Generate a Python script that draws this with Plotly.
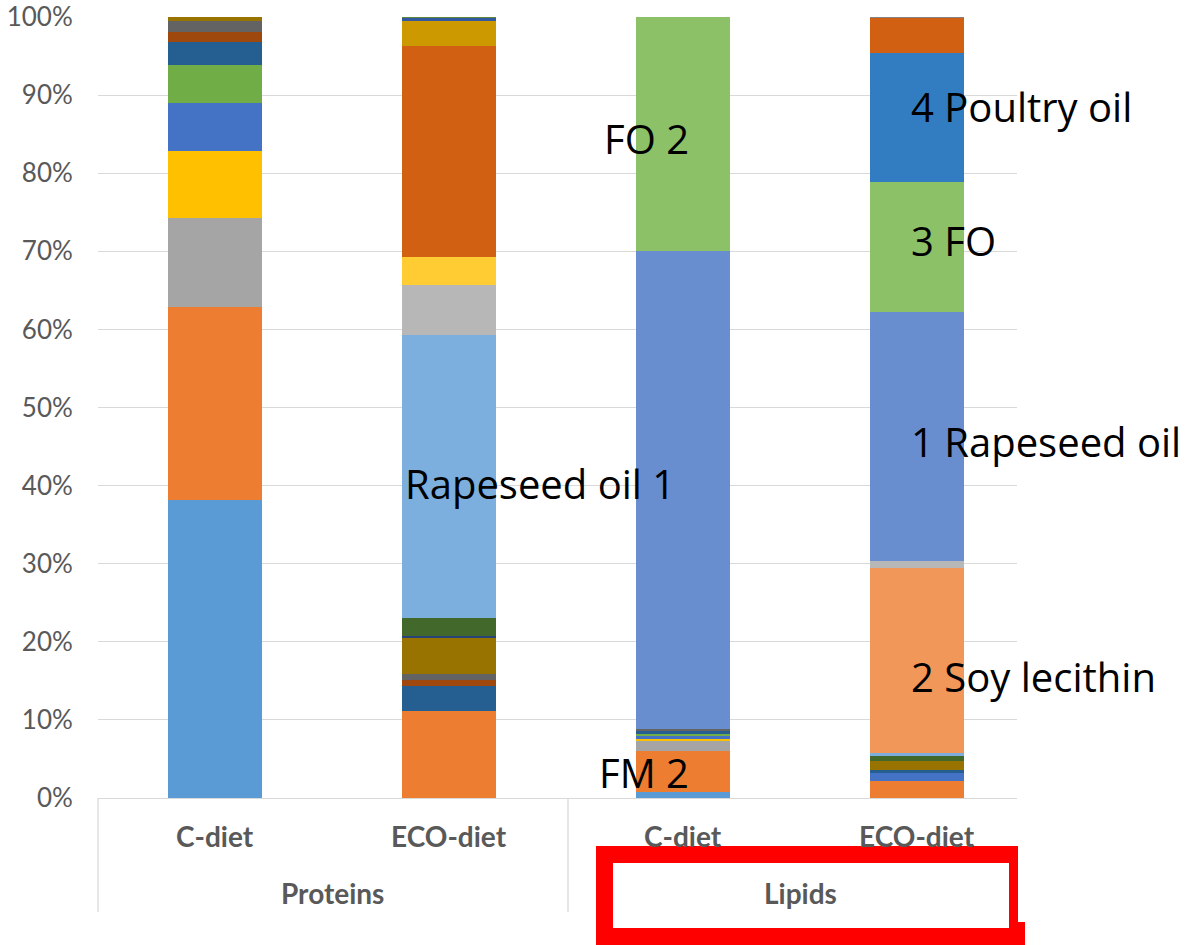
import plotly.graph_objects as go

# Stacked composition of feed ingredients (share of each fraction, %)
bar_x = [0, 1, 2, 3]
diet_labels = ["C-diet", "ECO-diet", "C-diet", "ECO-diet"]
group_labels = ["Proteins", "Lipids"]
group_centers = [0.5, 2.5]

# Each list: [Proteins C-diet, Proteins ECO-diet, Lipids C-diet, Lipids ECO-diet]
ing_01 = [38.1, 0.0, 0.8, 0.0]
ing_02 = [24.8, 11.1, 5.2, 2.2]
ing_03 = [11.4, 0.0, 1.3, 0.0]
ing_04 = [8.5, 0.0, 0.3, 0.0]
ing_05 = [6.2, 0.0, 0.3, 1.0]
ing_06 = [4.8, 0.0, 0.3, 0.0]
ing_07 = [3.0, 3.2, 0.5, 0.4]
ing_08 = [1.3, 0.8, 0.0, 0.0]
ing_09 = [1.4, 0.8, 0.1, 0.0]
ing_10 = [0.5, 4.6, 0.0, 1.1]
ing_11 = [0.0, 0.3, 0.0, 0.0]
ing_12 = [0.0, 2.2, 0.0, 0.7]
ing_13 = [0.0, 36.3, 0.0, 0.4]
ing_14 = [0.0, 0.0, 0.0, 23.6]
ing_15 = [0.0, 6.4, 0.0, 1.0]
ing_16 = [0.0, 3.6, 0.0, 0.0]
ing_17 = [0.0, 0.0, 61.2, 31.8]
ing_18 = [0.0, 0.0, 30.0, 16.7]
ing_19 = [0.0, 0.0, 0.0, 16.5]
ing_20 = [0.0, 27.0, 0.0, 4.5]
ing_21 = [0.0, 0.0, 0.0, 0.1]
ing_22 = [0.0, 3.2, 0.0, 0.0]
ing_23 = [0.0, 0.4, 0.0, 0.0]
ing_24 = [0.0, 0.1, 0.0, 0.0]

series = [ing_01, ing_02, ing_03, ing_04, ing_05, ing_06, ing_07, ing_08,
          ing_09, ing_10, ing_11, ing_12, ing_13, ing_14, ing_15, ing_16,
          ing_17, ing_18, ing_19, ing_20, ing_21, ing_22, ing_23, ing_24]

colors = ["#5B9BD5", "#ED7D31", "#A5A5A5", "#FFC000", "#4472C4", "#70AD47",
          "#255E91", "#9E480E", "#636363", "#997300", "#264478", "#43682B",
          "#7CAFDD", "#F1975A", "#B7B7B7", "#FFCD33", "#698ED0", "#8CC168",
          "#327DC2", "#D26012", "#848484", "#CC9A00", "#335AA1", "#5A8A39"]

# In-bar callouts: text, x (category units, left edge), y (%)
callout_text = ["Rapeseed oil 1", "FO 2", "FM 2", "4 Poultry oil", "3 FO",
                "1 Rapeseed oil", "2 Soy lecithin"]
callout_x = [0.805, 1.655, 1.632, 2.965, 2.965, 2.965, 2.965]
callout_y = [40.3, 84.4, 3.3, 88.5, 71.4, 45.7, 15.5]

W, H = 1199, 945
L, R, T, B = 98, 1017, 17, 798

fig = go.Figure()
for i, (vals, col) in enumerate(zip(series, colors)):
    fig.add_trace(go.Bar(
        x=bar_x, y=vals, name=f"Ingredient {i + 1}",
        marker=dict(color=col, line=dict(width=0)),
        width=0.40, showlegend=False, hoverinfo="y+name",
    ))


def px_x(p):
    return (p - L) / (R - L)


def px_y(p):
    return (B - p) / (B - T)


label_font = dict(family="Lato", size=28, color="#595959", weight="bold")
annotations = []
for xv, lab in zip(bar_x, diet_labels):
    annotations.append(dict(x=xv, y=px_y(836), xref="x", yref="paper",
                            text=lab, showarrow=False, font=label_font,
                            xanchor="center", yanchor="middle"))
for xv, lab in zip(group_centers, group_labels):
    annotations.append(dict(x=xv, y=px_y(893), xref="x", yref="paper",
                            text=lab, showarrow=False, font=label_font,
                            xanchor="center", yanchor="middle"))
for t, xv, yv in zip(callout_text, callout_x, callout_y):
    annotations.append(dict(x=xv, y=yv, xref="x", yref="y", text=t,
                            showarrow=False, xanchor="left", yanchor="middle",
                            font=dict(family="Open Sans", size=40,
                                      color="#000000")))

shapes = []
# Category-axis dividers
for xp in (98, 568):
    shapes.append(dict(type="line", xref="paper", yref="paper",
                       x0=px_x(xp), x1=px_x(xp), y0=0, y1=px_y(912),
                       line=dict(color="#D9D9D9", width=1.3)))
# Red frame around the "Lipids" label
red = "#FF0000"
for (x0, y0, x1, y1) in [(596, 846, 613, 950), (596, 846, 1018, 863),
                         (1009, 846, 1018, 950), (596, 928, 1018, 950),
                         (1018, 922, 1025, 950)]:
    shapes.append(dict(type="rect", xref="paper", yref="paper",
                       x0=px_x(x0), x1=px_x(x1), y0=px_y(y1), y1=px_y(y0),
                       fillcolor=red, line=dict(width=0), layer="above"))

fig.update_layout(
    width=W, height=H,
    margin=dict(l=L, r=W - R, t=T, b=H - B),
    barmode="stack",
    paper_bgcolor="white", plot_bgcolor="white",
    annotations=annotations, shapes=shapes,
    xaxis=dict(range=[-0.5, 3.427], showticklabels=False, showgrid=False,
               zeroline=False, showline=True, linecolor="#D9D9D9", linewidth=1.3,
               fixedrange=True, automargin=False),
    yaxis=dict(range=[0, 100], dtick=10, ticksuffix="%", showgrid=True,
               gridcolor="#D9D9D9", gridwidth=1.3, zeroline=False,
               ticks="outside", ticklen=19, tickcolor="rgba(0,0,0,0)",
               tickfont=dict(family="Lato", size=26, color="#595959"),
               fixedrange=True, automargin=False),
)

fig.write_html("out.html")
